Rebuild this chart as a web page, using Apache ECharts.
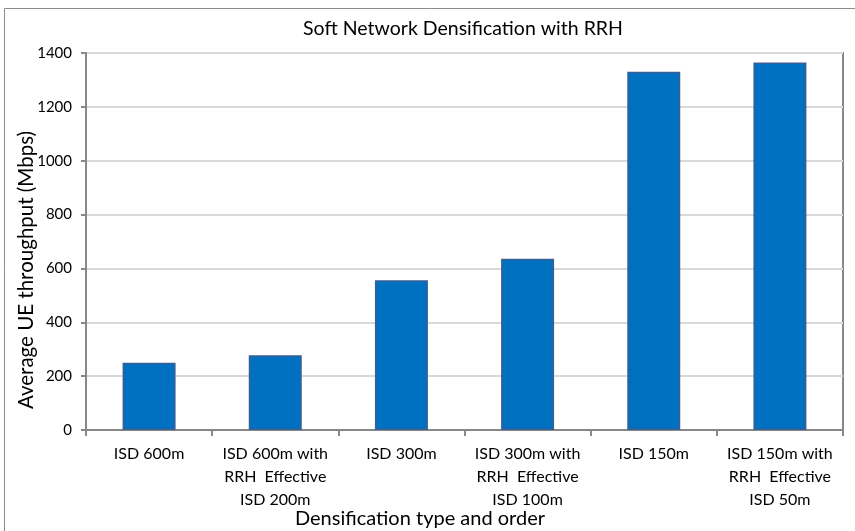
<!DOCTYPE html>
<html><head><meta charset="utf-8">
<script src="https://cdn.jsdelivr.net/npm/echarts@6/dist/echarts.min.js"></script>
<style>html,body{margin:0;padding:0;background:#fff}#c{width:855px;height:531px}</style>
</head><body><div id="c"></div>
<script>
const categories = ["ISD 600m", "ISD 600m with\nRRH  Effective\nISD 200m", "ISD 300m", "ISD 300m with\nRRH  Effective\nISD 100m", "ISD 150m", "ISD 150m with\nRRH  Effective\nISD 50m"];
const throughput = [250, 278, 556, 636, 1330, 1365];
const yTicks = [0, 200, 400, 600, 800, 1000, 1200, 1400];
const titleText = "Soft Network Densification with RRH";
const xName = "Densification type and order";
const yName = "Average UE throughput (Mbps)";

const font = "Lato, 'Open Sans', sans-serif";
const chart = echarts.init(document.getElementById('c'));
chart.setOption({
  animation: false,
  graphic: [
    { type: 'rect', shape: { x: 4.5, y: 8.5, width: 900, height: 600 },
      style: { fill: 'none', stroke: '#8c8c8c', lineWidth: 1 }, silent: true, z: -1 },
    { type: 'text', x: 463, y: 29,
      style: { text: titleText, fontFamily: font, fontSize: 19.5, fill: '#000', align: 'center', verticalAlign: 'middle' } },
    { type: 'text', x: 26, y: 270, rotation: Math.PI / 2,
      style: { text: yName, fontFamily: font, fontSize: 20.5, fill: '#000', align: 'center', verticalAlign: 'middle' } },
    { type: 'text', x: 420, y: 519,
      style: { text: xName, fontFamily: font, fontSize: 20, fill: '#000', align: 'center', verticalAlign: 'middle' } }
  ],
  grid: { left: 86, right: 12, top: 53, bottom: 101, show: true, borderColor: '#888', borderWidth: 2, containLabel: false },
  xAxis: {
    type: 'category', data: categories,
    axisLine: { lineStyle: { color: '#888', width: 2 } },
    axisTick: { show: true, alignWithLabel: false, length: 6, lineStyle: { color: '#888', width: 2 } },
    axisLabel: { interval: 0, fontFamily: font, fontSize: 16, color: '#000', lineHeight: 23, margin: 12 }
  },
  yAxis: {
    type: 'value', min: yTicks[0], max: yTicks[yTicks.length - 1], interval: 200,
    axisLine: { show: true, lineStyle: { color: '#888', width: 2 } },
    axisTick: { show: true, length: 5, lineStyle: { color: '#888', width: 2 } },
    splitLine: { lineStyle: { color: '#d9d9d9', width: 2 } },
    axisLabel: { fontFamily: font, fontSize: 15, color: '#000', margin: 14, formatter: v => String(v) }
  },
  series: [{
    type: 'bar', data: throughput, barWidth: '42%',
    itemStyle: { color: '#0070C0', borderColor: '#3A5F94', borderWidth: 1.5 }
  }]
});
</script></body></html>
